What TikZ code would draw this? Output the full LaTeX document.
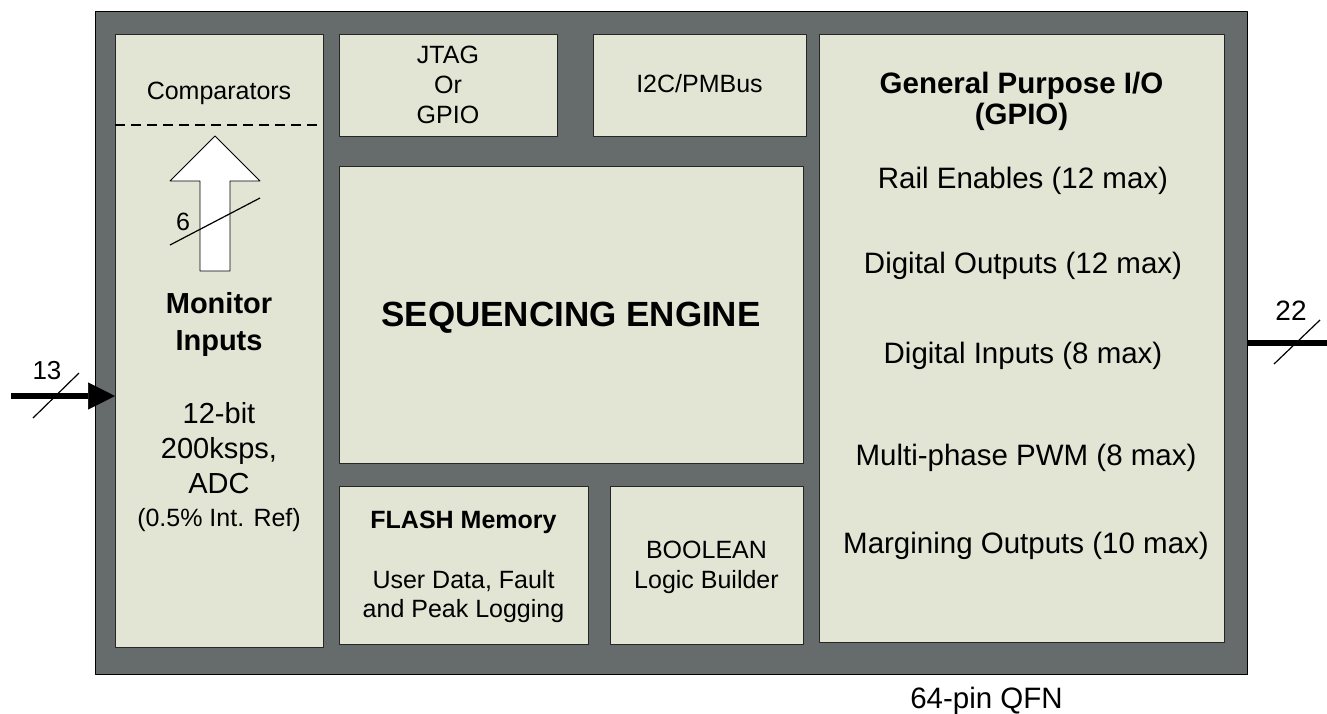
\documentclass[tikz,border=0pt]{standalone}
\usepackage{fontspec}
\setmainfont{Liberation Sans}
\usetikzlibrary{arrows.meta}
\definecolor{chipgray}{RGB}{102,107,107}
\definecolor{blockfill}{RGB}{226,228,212}
\newcommand{\pxsize}[1]{\fontsize{#1}{#1}\selectfont}

\begin{document}
\begin{tikzpicture}[x=1pt,y=-1pt,line join=round,
  block/.style={draw=black!85,line width=0.8pt,fill=blockfill,inner sep=0pt,anchor=north west},
  txt/.style={inner sep=0pt,anchor=base},
  bus/.style={line width=5.5pt},
  slash/.style={line width=1.2pt}]
\useasboundingbox (0,0) rectangle (1327,713);
\node[draw=black,line width=1pt,fill=chipgray,inner sep=0pt,anchor=north west,
  minimum width=1152pt,minimum height=663pt] (chip) at (95,11) {};
% blocks
\node[block,minimum width=208pt,minimum height=613pt] (mon) at (115,34) {};
\node[block,minimum width=218pt,minimum height=102pt] (jtag) at (339,34) {};
\node[block,minimum width=213pt,minimum height=102pt] (i2c) at (593,34) {};
\node[block,minimum width=464pt,minimum height=297pt] (seq) at (339,166) {};
\node[block,minimum width=249pt,minimum height=158pt] (flash) at (339,486) {};
\node[block,minimum width=193pt,minimum height=158pt] (bool) at (610,486) {};
\node[block,minimum width=405pt,minimum height=608pt] (gpio) at (819,34) {};
% monitor inputs
\draw[line width=1.6pt,dash pattern=on 10pt off 6pt] (115,125) -- (323,125);
\node[txt] (cmp) at (219,99) {\pxsize{25}Comparators};
\draw[fill=white,line width=0.8pt] (200,271) -- (200,181) -- (170,181) -- (215,136)
  -- (260,181) -- (230,181) -- (230,271) -- cycle;
\draw[slash] (170,245) -- (260,198);
\node[txt] (n6) at (183,230) {\pxsize{25}6};
\node[txt] (mon1) at (219,313) {\pxsize{29}\bfseries Monitor};
\node[txt] (mon2) at (219,350) {\pxsize{29}\bfseries Inputs};
\node[txt] (adc1) at (219,423) {\pxsize{29}12-bit};
\node[txt] (adc2) at (219,458) {\pxsize{29}200ksps,};
\node[txt] (adc3) at (219,493) {\pxsize{29}ADC};
\node[txt] (adc4) at (219,526) {\pxsize{25}(0.5\% Int. Ref)};
% top blocks
\node[txt] (jtag1) at (448,63) {\pxsize{25}JTAG};
\node[txt] (jtag2) at (448,93) {\pxsize{25}Or};
\node[txt] (jtag3) at (448,123) {\pxsize{25}GPIO};
\node[txt] (i2ct) at (699.5,92) {\pxsize{25}I2C/PMBus};
\node[txt] (seqt) at (571,326) {\pxsize{35}\bfseries SEQUENCING ENGINE};
% bottom blocks
\node[txt] (flash1) at (463.5,528) {\pxsize{25}\bfseries FLASH Memory};
\node[txt] (flash2) at (463.5,588) {\pxsize{25}User Data, Fault};
\node[txt] (flash3) at (463.5,617) {\pxsize{25}and Peak Logging};
\node[txt] (bool1) at (706.5,558) {\pxsize{25}BOOLEAN};
\node[txt] (bool2) at (706.5,588) {\pxsize{25}Logic Builder};
% gpio
\node[txt] (gp1) at (1021.5,93) {\pxsize{29.5}\bfseries General Purpose I/O};
\node[txt] (gp2) at (1021.5,124) {\pxsize{29.5}\bfseries (GPIO)};
\node[txt] (gp3) at (1023,188) {\pxsize{29.5}Rail Enables (12 max)};
\node[txt] (gp4) at (1023,273) {\pxsize{29.5}Digital Outputs (12 max)};
\node[txt] (gp5) at (1023,363) {\pxsize{29.5}Digital Inputs (8 max)};
\node[txt] (gp6) at (1026,465) {\pxsize{29.5}Multi-phase PWM (8 max)};
\node[txt] (gp7) at (1026,553) {\pxsize{29.5}Margining Outputs (10 max)};
% pins
\coordinate (in) at (11,396);
\draw[bus,-{Triangle[length=27pt,width=27pt,line width=0.5pt]}] (in) -- (mon.west |- in);
\draw[slash] (33,418) -- (79,373);
\node[txt] (n13) at (47,379) {\pxsize{26}13};
\coordinate (out) at (1327,343);
\draw[bus] (chip.east |- out) -- (out);
\draw[slash] (1274,364) -- (1320,320);
\node[txt] (n22) at (1291,320) {\pxsize{28}22};
\node[txt] (pkg) at (986.5,708) {\pxsize{29.5}64-pin QFN};
\end{tikzpicture}
\end{document}
